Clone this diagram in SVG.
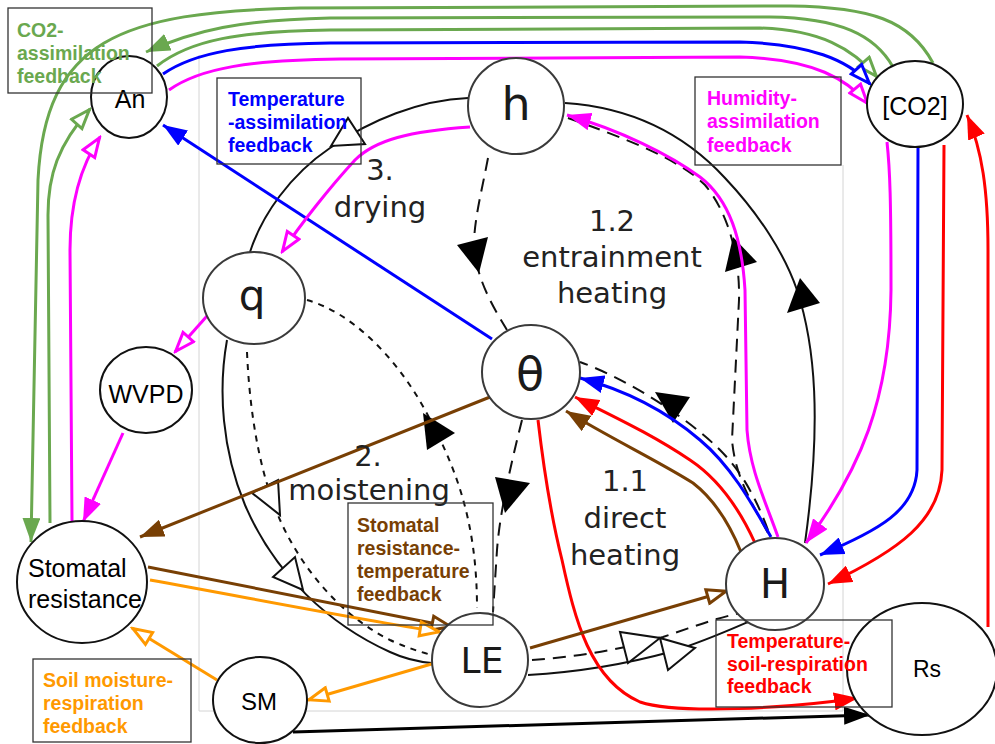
<svg xmlns="http://www.w3.org/2000/svg" width="995" height="744" viewBox="0 0 995 744">
<style>
.node{fill:#fff;stroke:#111;stroke-width:2}
.nodeg{fill:#fff;stroke:#3a3a3a;stroke-width:2}
.lbl{font-family:"Liberation Sans",Arial,sans-serif;fill:#000;text-anchor:middle}
.big{font-family:"DejaVu Sans",sans-serif;fill:#1a1a1a;text-anchor:middle}
.cap{font-family:"DejaVu Sans",sans-serif;fill:#222;text-anchor:middle;font-size:29px}
.fb{font-family:"Liberation Sans",Arial,sans-serif;font-weight:bold;font-size:19.5px}
.box{fill:none;stroke:#333;stroke-width:1.3}
.c{fill:none;stroke-width:3}
.k{fill:none;stroke:#111;stroke-width:2}
.ld{stroke-dasharray:13,8}
.sd{stroke-dasharray:6,6}
.ot{fill:#fff;stroke:#111;stroke-width:2}
.ft{fill:#000}
</style>
<defs>
<marker id="fG" markerUnits="userSpaceOnUse" viewBox="0 0 24 18" refX="24" refY="9" markerWidth="24" markerHeight="18" orient="auto"><path d="M0,0L24,9L0,18z" fill="#6aa84f"/></marker>
<marker id="fB" markerUnits="userSpaceOnUse" viewBox="0 0 24 18" refX="24" refY="9" markerWidth="24" markerHeight="18" orient="auto"><path d="M0,0L24,9L0,18z" fill="#0000ff"/></marker>
<marker id="fM" markerUnits="userSpaceOnUse" viewBox="0 0 24 18" refX="24" refY="9" markerWidth="24" markerHeight="18" orient="auto"><path d="M0,0L24,9L0,18z" fill="#ff00ff"/></marker>
<marker id="fR" markerUnits="userSpaceOnUse" viewBox="0 0 24 18" refX="24" refY="9" markerWidth="24" markerHeight="18" orient="auto"><path d="M0,0L24,9L0,18z" fill="#ff0000"/></marker>
<marker id="fBr" markerUnits="userSpaceOnUse" viewBox="0 0 24 18" refX="24" refY="9" markerWidth="24" markerHeight="18" orient="auto"><path d="M0,0L24,9L0,18z" fill="#783f04"/></marker>
<marker id="fK" markerUnits="userSpaceOnUse" viewBox="0 0 26 18" refX="26" refY="9" markerWidth="26" markerHeight="18" orient="auto"><path d="M0,0L26,9L0,18z" fill="#000"/></marker>
<marker id="oG" markerUnits="userSpaceOnUse" viewBox="0 0 24 18" refX="22" refY="9" markerWidth="24" markerHeight="18" orient="auto"><path d="M2,2L21,9L2,16z" fill="#fff" stroke="#6aa84f" stroke-width="3"/></marker>
<marker id="oB" markerUnits="userSpaceOnUse" viewBox="0 0 24 18" refX="22" refY="9" markerWidth="24" markerHeight="18" orient="auto"><path d="M2,2L21,9L2,16z" fill="#fff" stroke="#0000ff" stroke-width="3"/></marker>
<marker id="oM" markerUnits="userSpaceOnUse" viewBox="0 0 24 18" refX="22" refY="9" markerWidth="24" markerHeight="18" orient="auto"><path d="M2,2L21,9L2,16z" fill="#fff" stroke="#ff00ff" stroke-width="3"/></marker>
<marker id="oBr" markerUnits="userSpaceOnUse" viewBox="0 0 24 18" refX="22" refY="9" markerWidth="24" markerHeight="18" orient="auto"><path d="M2,2L21,9L2,16z" fill="#fff" stroke="#783f04" stroke-width="3"/></marker>
<marker id="oO" markerUnits="userSpaceOnUse" viewBox="0 0 24 18" refX="22" refY="9" markerWidth="24" markerHeight="18" orient="auto"><path d="M2,2L21,9L2,16z" fill="#fff" stroke="#ff9900" stroke-width="3"/></marker>
</defs>
<rect width="995" height="744" fill="#fff"/>
<path d="M199,55L199,711L843,711L843,165" fill="none" stroke="#d4d4d4" stroke-width="1"/>

<g id="connectors">
<!-- black loop -->
<path class="k" d="M250,252C262,215 290,175 330,148C370,120 420,100 468,98"/>
<polygon class="ot" points="331,146 348,118 365,144"/>
<path class="k" d="M565,103C640,108 690,140 725,178C760,215 785,255 797,290C815,345 822,420 805,543"/>
<polygon class="ft" points="787,313 820,303 800,278"/>
<path class="k" d="M528,675C580,672 630,663 670,652C700,643 725,632 748,622"/>
<path class="k ld" d="M532,660C575,657 620,650 663,637C690,628 715,618 745,612"/>
<polygon class="ot" points="620,632 628,663 660,638"/>
<polygon class="ot" points="660,638 668,670 695,648"/>
<path class="k" d="M227,340C218,390 222,450 245,505C275,575 330,625 390,652C405,659 420,662 432,663"/>
<path class="k sd" d="M247,352C250,420 262,490 290,540C315,585 350,620 390,640C405,647 420,652 432,655"/>
<polygon class="ot" points="252,493 278,480 280,515"/>
<polygon class="ot" points="273,577 295,557 303,590"/>
<path class="k ld" d="M488,158C482,190 474,220 474,245C476,280 495,310 507,330"/>
<polygon class="ft" points="457,245 488,237 479,273"/>
<path class="k ld" d="M522,420C512,460 500,510 497,550L493,612"/>
<polygon class="ft" points="495,477 530,483 505,513"/>
<path class="k sd" d="M307,300C350,312 395,355 425,410C455,465 477,520 477,608"/>
<polygon class="ft" points="423,413 455,433 427,450"/>
<path class="k ld" d="M768,530C755,495 740,470 720,450C690,420 630,380 580,362"/>
<polygon class="ft" points="655,392 690,397 673,423"/>
<path class="k ld" d="M768,533C750,500 735,475 732,440L739,300C740,260 730,215 705,185C680,160 630,140 568,118"/>
<polygon class="ft" points="733,237 725,272 757,262"/>
<!-- green -->
<path class="c" stroke="#6aa84f" marker-end="url(#fG)" d="M933,63C910,20 870,7 790,6L300,8C120,12 45,40 38,180L31,542"/>
<path class="c" stroke="#6aa84f" marker-end="url(#fG)" d="M893,67C875,35 840,18 770,17L330,18C240,20 195,30 146,52"/>
<path class="c" stroke="#6aa84f" marker-end="url(#oG)" d="M157,66C190,40 240,31 330,30L760,28C820,30 852,48 877,77"/>
<path class="c" stroke="#6aa84f" marker-end="url(#oG)" d="M50,523L48,215C48,175 58,145 90,109"/>
<!-- blue -->
<path class="c" stroke="#0000ff" marker-end="url(#oB)" d="M163,74C195,52 245,44 330,43L740,42C810,44 848,60 870,84"/>
<path class="c" stroke="#0000ff" marker-end="url(#fB)" d="M492,339L163,125"/>
<path class="c" stroke="#0000ff" marker-end="url(#fB)" d="M771,537C750,500 730,465 700,440C665,410 625,390 580,378"/>
<path class="c" stroke="#0000ff" marker-end="url(#fB)" d="M918,148L917,470C915,510 880,530 820,555"/>
<!-- magenta -->
<path class="c" stroke="#ff00ff" marker-end="url(#oM)" d="M169,90C200,68 250,60 340,59L740,57C815,59 848,80 868,104"/>
<path class="c" stroke="#ff00ff" marker-end="url(#oM)" d="M72,521L70,250C70,210 78,170 100,137"/>
<path class="c" stroke="#ff00ff" marker-end="url(#oM)" d="M470,127C410,131 375,140 355,160C330,187 300,225 282,252"/>
<path class="c" stroke="#ff00ff" marker-end="url(#oM)" d="M207,316L175,352"/>
<path class="c" stroke="#ff00ff" marker-end="url(#fM)" d="M123,433L83,522"/>
<path class="c" stroke="#ff00ff" marker-end="url(#fM)" d="M778,537C765,500 750,470 747,430L745,290C742,240 730,200 700,177C670,155 620,130 567,115"/>
<path class="c" stroke="#ff00ff" marker-end="url(#fM)" d="M887,142C890,170 891,200 891,290C890,400 860,470 806,543"/>
<!-- red -->
<path class="c" stroke="#ff0000" marker-end="url(#fR)" d="M755,543C740,510 720,480 690,460C650,433 610,415 575,397"/>
<path class="c" stroke="#ff0000" marker-end="url(#fR)" d="M538,420C545,480 552,520 562,560C575,620 590,680 640,702C680,715 790,708 858,698"/>
<path class="c" stroke="#ff0000" marker-end="url(#fR)" d="M944,145L942,470C940,520 900,550 828,584"/>
<path class="c" stroke="#ff0000" marker-end="url(#fR)" d="M988,627L988,250C988,190 982,150 967,115"/>
<!-- brown -->
<path class="c" stroke="#783f04" marker-end="url(#fBr)" d="M490,397L140,537"/>
<path class="c" stroke="#783f04" marker-end="url(#oBr)" d="M148,567L452,627"/>
<path class="c" stroke="#783f04" marker-end="url(#oBr)" d="M530,648L727,591"/>
<path class="c" stroke="#783f04" marker-end="url(#fBr)" d="M741,552C730,525 715,500 693,483C660,462 610,438 566,411"/>
<!-- orange -->
<path class="c" stroke="#ff9900" marker-end="url(#oO)" d="M150,580C250,598 350,618 440,632"/>
<path class="c" stroke="#ff9900" marker-end="url(#oO)" d="M435,663L308,700"/>
<path class="c" stroke="#ff9900" marker-end="url(#oO)" d="M217,680L132,628"/>
<!-- black -->
<path class="c" stroke="#000" marker-end="url(#fK)" d="M293,732L870,715"/>
</g>

<g id="labels">
<text class="cap" x="380" y="180">3.</text>
<text class="cap" x="380" y="217">drying</text>
<text class="cap" x="612" y="231">1.2</text>
<text class="cap" x="612" y="267">entrainment</text>
<text class="cap" x="612" y="303">heating</text>
<text class="cap" x="368" y="466">2.</text>
<text class="cap" x="369" y="500">moistening</text>
<text class="cap" x="625" y="491">1.1</text>
<text class="cap" x="625" y="528">direct</text>
<text class="cap" x="625" y="565">heating</text>
</g>

<g id="node-An"><ellipse class="node" cx="129" cy="97" rx="38" ry="41"/><text class="lbl" x="130" y="108" font-size="25">An</text></g>
<g id="node-CO2"><ellipse class="node" cx="915" cy="104" rx="48" ry="43"/><text class="lbl" x="915" y="115" font-size="25">[CO2]</text></g>
<g id="node-h"><ellipse class="nodeg" cx="516" cy="106" rx="48" ry="48"/><text class="big" x="516" y="120" font-size="46">h</text></g>
<g id="node-q"><ellipse class="nodeg" cx="254" cy="298" rx="51" ry="46"/><text class="big" x="252" y="310" font-size="42">q</text></g>
<g id="node-WVPD"><ellipse class="node" cx="146" cy="390" rx="46" ry="43"/><text class="lbl" x="146" y="403" font-size="25">WVPD</text></g>
<g id="node-theta"><ellipse class="nodeg" cx="531" cy="372" rx="49" ry="47"/><text class="big" x="530" y="390" font-size="46">θ</text></g>
<g id="node-H"><ellipse class="nodeg" cx="775" cy="584" rx="49" ry="46"/><text class="big" x="775" y="598" font-size="40">H</text></g>
<g id="node-LE"><ellipse class="nodeg" cx="480" cy="660" rx="48" ry="47"/><text class="big" x="482" y="673" font-size="36">LE</text></g>
<g id="node-Stomatal"><ellipse class="node" cx="82" cy="582" rx="65" ry="61"/><text class="lbl" x="28" y="577" font-size="25" text-anchor="start" style="text-anchor:start">Stomatal</text><text class="lbl" x="28" y="608" font-size="25" style="text-anchor:start">resistance</text></g>
<g id="node-SM"><ellipse class="node" cx="260" cy="700" rx="47" ry="43"/><text class="lbl" x="259" y="710" font-size="24">SM</text></g>
<g id="node-Rs"><ellipse class="node" cx="922" cy="669" rx="75" ry="66"/><text class="lbl" x="927" y="677" font-size="23">Rs</text></g>

<g id="box-co2"><rect class="box" x="8" y="8" width="144" height="85"/><text class="fb" fill="#6aa84f" x="17" y="37">CO2-</text><text class="fb" fill="#6aa84f" x="17" y="60">assimilation</text><text class="fb" fill="#6aa84f" x="17" y="83">feedback</text></g>
<g id="box-temp"><rect class="box" x="217" y="78" width="144" height="86"/><text class="fb" fill="#0000ff" x="228" y="106">Temperature</text><text class="fb" fill="#0000ff" x="228" y="129">-assimilation</text><text class="fb" fill="#0000ff" x="228" y="152">feedback</text></g>
<g id="box-hum"><rect class="box" x="695" y="77" width="146" height="88"/><text class="fb" fill="#ff00ff" x="707" y="105">Humidity-</text><text class="fb" fill="#ff00ff" x="707" y="128">assimilation</text><text class="fb" fill="#ff00ff" x="707" y="152">feedback</text></g>
<g id="box-stom"><rect class="box" x="348" y="503" width="145" height="122"/><text class="fb" fill="#783f04" x="357" y="532">Stomatal</text><text class="fb" fill="#783f04" x="357" y="555">resistance-</text><text class="fb" fill="#783f04" x="357" y="578">temperature</text><text class="fb" fill="#783f04" x="357" y="601">feedback</text></g>
<g id="box-soil"><rect class="box" x="33" y="659" width="158" height="83"/><text class="fb" fill="#ff9900" x="43" y="687">Soil moisture-</text><text class="fb" fill="#ff9900" x="43" y="710">respiration</text><text class="fb" fill="#ff9900" x="43" y="733">feedback</text></g>
<g id="box-tsr"><rect class="box" x="716" y="620" width="176" height="87"/><text class="fb" fill="#ff0000" x="727" y="648">Temperature-</text><text class="fb" fill="#ff0000" x="727" y="671">soil-respiration</text><text class="fb" fill="#ff0000" x="727" y="693">feedback</text></g>
</svg>
